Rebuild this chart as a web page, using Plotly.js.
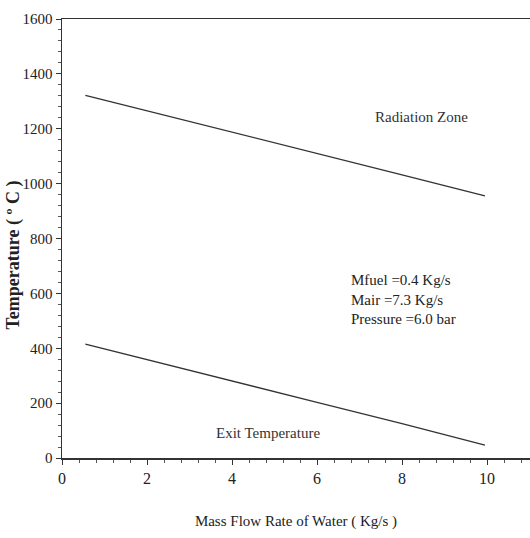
<!DOCTYPE html>
<html><head><meta charset="utf-8">
<script src="https://cdn.plot.ly/plotly-3.0.1.min.js"></script>
<style>body{margin:0;background:#fff}#c{width:530px;height:538px}</style>
</head><body><div id="c"></div>
<script>
const flowRate = [0.55, 2, 4, 6, 8, 9.95];
const radiationZone = [1322, 1266, 1188, 1110, 1032, 955];
const exitTemperature = [415, 358, 281, 203, 125, 47];
const xTicks = [0, 2, 4, 6, 8, 10];
const yTicks = [0, 200, 400, 600, 800, 1000, 1200, 1400, 1600];

const font = {family: 'Liberation Serif, serif', color: '#222'};
const traces = [
  {x: flowRate, y: radiationZone, mode: 'lines', line: {color: '#333', width: 1.3}, name: 'Radiation Zone'},
  {x: flowRate, y: exitTemperature, mode: 'lines', line: {color: '#333', width: 1.3}, name: 'Exit Temperature'}
];
const layout = {
  width: 530, height: 538,
  margin: {l: 62, r: 0, t: 19, b: 80},
  paper_bgcolor: '#fff', plot_bgcolor: '#fff',
  showlegend: false,
  font: Object.assign({size: 14}, font),
  xaxis: {
    range: [0, 11.01], tickvals: xTicks, ticktext: xTicks.map(String),
    showgrid: false, zeroline: false, showline: true, linecolor: '#333', linewidth: 1.5,
    mirror: true, ticks: 'outside', ticklen: 5, tickcolor: '#333',
    minor: {dtick: 0.4, tick0: 0, ticks: 'outside', ticklen: 3, tickcolor: '#555'},
    tickfont: {size: 16, family: font.family, color: '#222'},
    title: {text: 'Mass Flow Rate of Water ( Kg/s )', font: {size: 15, family: font.family, color: '#222'}, standoff: 30}
  },
  yaxis: {
    range: [0, 1600], tickvals: yTicks, ticktext: yTicks.map(String),
    showgrid: false, zeroline: false, showline: true, linecolor: '#333', linewidth: 1.5,
    ticks: 'outside', ticklen: 5, tickcolor: '#333',
    minor: {dtick: 40, tick0: 0, ticks: 'outside', ticklen: 3, tickcolor: '#555'},
    tickfont: {size: 15, family: font.family, color: '#222'}
  },
  annotations: [
    {x: -0.104, y: 0.462, xref: 'paper', yref: 'paper', xanchor: 'center', yanchor: 'middle', textangle: -90, showarrow: false,
     text: '<b>Temperature ( º C )</b>', font: {size: 18, family: font.family, color: '#222'}},
    {x: 8.45, y: 1243, xref: 'x', yref: 'y', text: 'Radiation Zone', showarrow: false, font: {size: 15, family: font.family, color: '#333'}},
    {x: 6.75, y: 684, xref: 'x', yref: 'y', xanchor: 'left', yanchor: 'top', align: 'left', showarrow: false,
     text: 'Mfuel =0.4 Kg/s<br>Mair =7.3 Kg/s<br>Pressure =6.0 bar', font: {size: 15, family: font.family, color: '#222'}},
    {x: 4.85, y: 92, xref: 'x', yref: 'y', text: 'Exit Temperature', showarrow: false, font: {size: 15, family: font.family, color: '#333'}}
  ]
};
Plotly.newPlot('c', traces, layout, {displayModeBar: false, staticPlot: true});
</script></body></html>
